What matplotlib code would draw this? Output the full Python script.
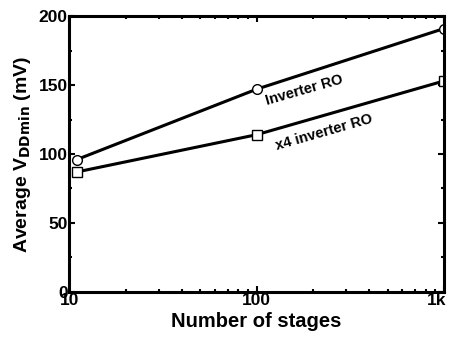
import numpy as np
import matplotlib.pyplot as plt
import matplotlib.transforms as mtransforms
from matplotlib.ticker import FixedLocator, MultipleLocator, LogLocator, NullFormatter

plt.rcParams['font.family'] = ['Liberation Sans', 'DejaVu Sans']
plt.rcParams['font.weight'] = 'bold'

# 数据
stages = [11, 100, 1000]
inv_ro = [96, 147, 191]
x4_inv_ro = [87, 114, 153]
xtick_vals = [10, 100, 1000]
xtick_labels = ['10', '100', '1k']

fig = plt.figure(figsize=(4.49, 3.43), dpi=100)
ax = fig.add_axes([0.154, 0.149, 0.835, 0.804])

ax.plot(stages, inv_ro, color='black', lw=2.2, marker='o', ms=7,
        mfc='white', mec='black', mew=1.0)
ax.plot(stages, x4_inv_ro, color='black', lw=2.2, marker='s', ms=6.5,
        mfc='white', mec='black', mew=1.0)

ax.text(180, 146.5, 'Inverter RO', rotation=16, ha='center', va='center',
        fontsize=10.5, fontweight='bold')
ax.text(230, 116, 'x4 inverter RO', rotation=16, ha='center', va='center',
        fontsize=10.5, fontweight='bold')

ax.set_xscale('log')
ax.set_xlim(10, 1000)
ax.set_ylim(0, 200)
ax.xaxis.set_major_locator(FixedLocator(xtick_vals))
ax.set_xticklabels(xtick_labels)
ax.xaxis.set_minor_locator(LogLocator(base=10, subs=np.arange(2, 10)))
ax.xaxis.set_minor_formatter(NullFormatter())
ax.yaxis.set_major_locator(MultipleLocator(50))
ax.yaxis.set_minor_locator(MultipleLocator(25))

ax.tick_params(which='both', direction='in', top=True, right=True, width=1.5)
ax.tick_params(which='major', length=4, labelsize=12.5, pad=1)
ax.tick_params(which='minor', length=2.5)
for lab in ax.get_xticklabels() + ax.get_yticklabels():
    lab.set_fontweight('bold')
# "1k" 稍微左移，避免被裁掉
last = ax.get_xticklabels()[-1]
last.set_transform(last.get_transform() + mtransforms.ScaledTranslation(-5 / 72, 0, fig.dpi_scale_trans))
for s in ax.spines.values():
    s.set_linewidth(2.2)

ax.set_xlabel('Number of stages', fontsize=14.5, fontweight='bold', labelpad=3)
ax.set_ylabel(r'Average V$_{\mathbf{DDmin}}$ (mV)', fontsize=14, fontweight='bold', labelpad=4)

plt.savefig('out.png', dpi=100)
